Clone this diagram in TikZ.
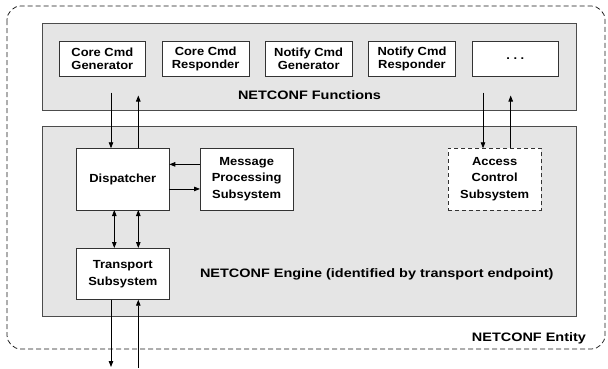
\documentclass[tikz,border=0pt]{standalone}
\usepackage{fontspec}
\setmainfont{Liberation Sans}[FakeStretch=1.18]
\newfontfamily\boxfont{Liberation Sans}[FakeStretch=1.1]
\usetikzlibrary{arrows.meta}
\begin{document}
\begin{tikzpicture}[x=1bp,y=-1bp,
  every node/.style={inner sep=0pt, outer sep=0pt},
  grouparea/.style={draw=black!70, fill=black!10, line width=0.9bp},
  fbox/.style={draw=black!80, fill=white, line width=0.9bp, minimum width=86.7bp, minimum height=34.3bp,
    align=center, font=\boxfont\bfseries\fontsize{11.8}{12.5}\selectfont},
  ebox/.style={draw=black!80, fill=white, line width=0.9bp, minimum width=93bp, minimum height=61.7bp,
    align=center, font=\boxfont\bfseries\fontsize{11.8}{17}\selectfont},
  lbl/.style={font=\bfseries\fontsize{12.3}{14}\selectfont},
  arr/.style={line width=0.8bp, -{Triangle[length=6bp,width=4.5bp]}},
  darr/.style={line width=0.8bp, {Triangle[length=6bp,width=4.5bp]}-{Triangle[length=6bp,width=4.5bp]}}
]
\useasboundingbox (0,0) rectangle (608,368);
% outer entity
\draw[black!90, line width=0.75bp, dash pattern=on 5bp off 3bp, rounded corners=14bp] (7,6) rectangle (605,349);
\node[lbl, anchor=base east] (entity) at (586,341) {NETCONF Entity};
% functions area
\node[grouparea, minimum width=534bp, minimum height=86.7bp] (func) at (309,66.65) {};
\node[fbox] (ccg) at (102.35,58.85) {Core Cmd\\Generator};
\node[fbox] (ccr) at (205.65,58.85) {Core Cmd\\Responder};
\node[fbox] (ncg) at (308.65,58.85) {Notify Cmd\\Generator};
\node[fbox] (ncr) at (412,58.85) {Notify Cmd\\Responder};
\node[fbox] (more) at (515.35,58.85) {.\ .\ .};
\node[lbl, anchor=base] (funclbl) at (309.5,99.5) {NETCONF Functions};
% engine area
\node[grouparea, minimum width=534bp, minimum height=189.3bp] (eng) at (309,221.35) {};
\node[ebox] (disp) at (122.8,179.15) {Dispatcher};
\node[ebox, minimum width=93.3bp] (mps) at (246.65,179.15) {Message\\Processing\\Subsystem};
\node[ebox, minimum width=93.3bp, dash pattern=on 4bp off 3bp] (acs) at (494.65,179.15) {Access\\Control\\Subsystem};
\node[ebox, minimum height=51.7bp] (tsp) at (122.8,273.85) {Transport\\Subsystem};
\node[lbl, anchor=base west] (englbl) at (200,277.5) {NETCONF Engine (identified by transport endpoint)};
% connector end points
\coordinate (f1) at (111,92.5);
\coordinate (f2) at (138.3,95.5);
\coordinate (a1) at (483,92.5);
\coordinate (a2) at (510.7,95.5);
\coordinate (b1) at (111,367);
\coordinate (b2) at (138.3,368);
% connectors
\draw[arr] (f1) -- (f1 |- disp.north);
\draw[arr] (f2 |- disp.north) -- (f2);
\draw[arr] (a1) -- (a1 |- acs.north);
\draw[arr] (a2 |- acs.north) -- (a2);
\draw[arr] ([yshift=14.8bp]mps.west) -- ([yshift=14.8bp]disp.east);
\draw[arr] ([yshift=-9.8bp]disp.east) -- ([yshift=-9.8bp]mps.west);
\draw[darr] ([xshift=-8.5bp]disp.south) -- ([xshift=-8.5bp]tsp.north);
\draw[darr] ([xshift=15.5bp]disp.south) -- ([xshift=15.5bp]tsp.north);
\draw[arr] (b1 |- tsp.south) -- (b1);
\draw[arr] (b2) -- (b2 |- tsp.south);
\end{tikzpicture}
\end{document}
